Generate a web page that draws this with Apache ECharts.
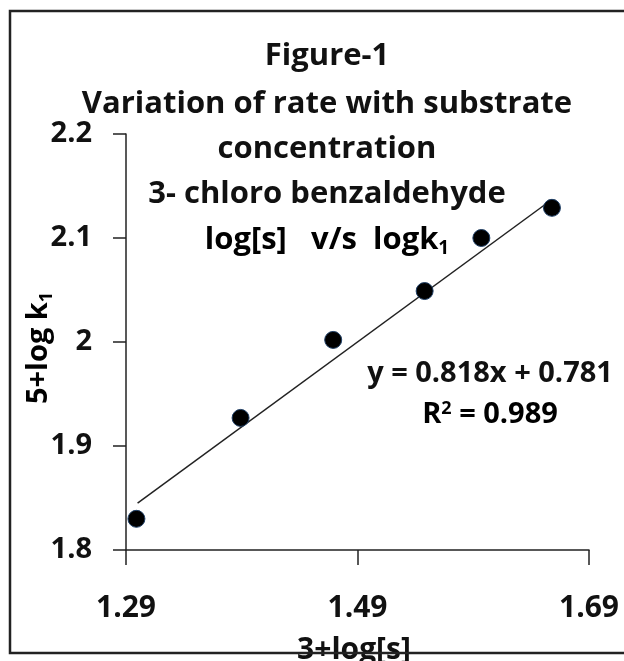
<!DOCTYPE html>
<html>
<head>
<meta charset="utf-8">
<script src="https://cdn.jsdelivr.net/npm/echarts@6/dist/echarts.min.js"></script>
<style>
	html, body { margin: 0; padding: 0; background: #fff; }
	#chart { width: 624px; height: 661px; }
</style>
</head>
<body>
<div id="chart"></div>
<script type="text/javascript">
	// 数据
	var logS = [1.299, 1.389, 1.469, 1.548, 1.597, 1.658];
	var logK = [1.830, 1.927, 2.002, 2.049, 2.100, 2.129];
	var trendX = [1.300, 1.658];
	var trendY = [1.845, 2.137];
	var xTicks = [1.29, 1.49, 1.69];
	var yTicks = [1.8, 1.9, 2.0, 2.1, 2.2];
	var titleLines = ['Figure-1', 'Variation of rate with substrate', 'concentration', '3- chloro benzaldehyde'];

	var FONT = 'Open Sans';
	var INK = '#111';

	function pairs(xs, ys) {
		return xs.map(function (x, i) { return [x, ys[i]]; });
	}

	// 标题逐行居中
	var titleY = [56, 104, 149, 194];
	var graphics = titleLines.map(function (t, i) {
		return {
			type: 'text', x: 327, y: titleY[i], z: 10,
			style: { text: t, align: 'center', verticalAlign: 'middle', fontFamily: FONT, fontWeight: 'bold', fontSize: 31, fill: INK }
		};
	});
	graphics.push({
		type: 'text', x: 327, y: 240, z: 10,
		style: {
			text: '{t|log[s]   v/s  logk}{s|1}',
			align: 'center', verticalAlign: 'middle',
			rich: {
				t: { fontFamily: FONT, fontWeight: 'bold', fontSize: 31, color: INK },
				s: { fontFamily: FONT, fontWeight: 'bold', fontSize: 19, color: INK, padding: [17, 0, 0, 0] }
			}
		}
	});
	// 回归方程
	graphics.push({
		type: 'text', x: 490, y: 374, z: 10,
		style: { text: 'y = 0.818x + 0.781', align: 'center', verticalAlign: 'middle', fontFamily: FONT, fontWeight: 'bold', fontSize: 29, fill: INK }
	});
	graphics.push({
		type: 'text', x: 490, y: 415, z: 10,
		style: {
			text: '{t|R}{p|2}{t| = 0.989}',
			align: 'center', verticalAlign: 'middle',
			rich: {
				t: { fontFamily: FONT, fontWeight: 'bold', fontSize: 29, color: INK },
				p: { fontFamily: FONT, fontWeight: 'bold', fontSize: 18, color: INK, padding: [0, 0, 13, 0] }
			}
		}
	});
	// 坐标轴名称
	graphics.push({
		type: 'text', x: 39, y: 348, rotation: Math.PI / 2, z: 10,
		style: {
			text: '{t|5+log k}{s|1}',
			align: 'center', verticalAlign: 'middle',
			rich: {
				t: { fontFamily: FONT, fontWeight: 'bold', fontSize: 29, color: INK },
				s: { fontFamily: FONT, fontWeight: 'bold', fontSize: 18, color: INK, padding: [16, 0, 0, 0] }
			}
		}
	});
	graphics.push({
		type: 'text', x: 354, y: 650, z: 10,
		style: { text: '3+log[s]', align: 'center', verticalAlign: 'middle', fontFamily: FONT, fontWeight: 'bold', fontSize: 30, fill: INK }
	});
	// 外框
	graphics.push({
		type: 'rect', z: 20,
		shape: { x: 10, y: 11, width: 640, height: 642 },
		style: { fill: 'none', stroke: '#222', lineWidth: 2.5 }
	});

	var chart = echarts.init(document.getElementById('chart'));
	chart.setOption({
		animation: false,
		textStyle: { fontFamily: FONT },
		graphic: graphics,
		grid: { left: 126, top: 134, right: 35, bottom: 111 },
		xAxis: {
			type: 'value',
			min: xTicks[0],
			max: xTicks[xTicks.length - 1],
			axisLine: { show: true, onZero: false, lineStyle: { color: '#222', width: 1.5 } },
			axisTick: { show: true, length: 15, customValues: xTicks, lineStyle: { color: '#222', width: 1.5 } },
			axisLabel: {
				customValues: xTicks,
				margin: 43,
				fontFamily: FONT, fontWeight: 'bold', fontSize: 30, color: INK,
				formatter: function (v) { return v.toFixed(2); }
			},
			splitLine: { show: false }
		},
		yAxis: {
			type: 'value',
			min: yTicks[0],
			max: yTicks[yTicks.length - 1],
			interval: 0.1,
			axisLine: { show: true, lineStyle: { color: '#222', width: 1.5 } },
			axisTick: { show: true, length: 13, lineStyle: { color: '#222', width: 1.5 } },
			axisLabel: { margin: 34, fontFamily: FONT, fontWeight: 'bold', fontSize: 29, color: INK },
			splitLine: { show: false }
		},
		series: [{
			type: 'line',
			data: pairs(trendX, trendY),
			symbol: 'none',
			lineStyle: { color: '#222', width: 1.5 },
			z: 2
		}, {
			type: 'scatter',
			data: pairs(logS, logK),
			symbol: 'circle',
			symbolSize: 17,
			itemStyle: { color: '#000', opacity: 1, borderColor: '#1f3f66', borderWidth: 1 },
			z: 3
		}]
	});
</script>
</body>
</html>
